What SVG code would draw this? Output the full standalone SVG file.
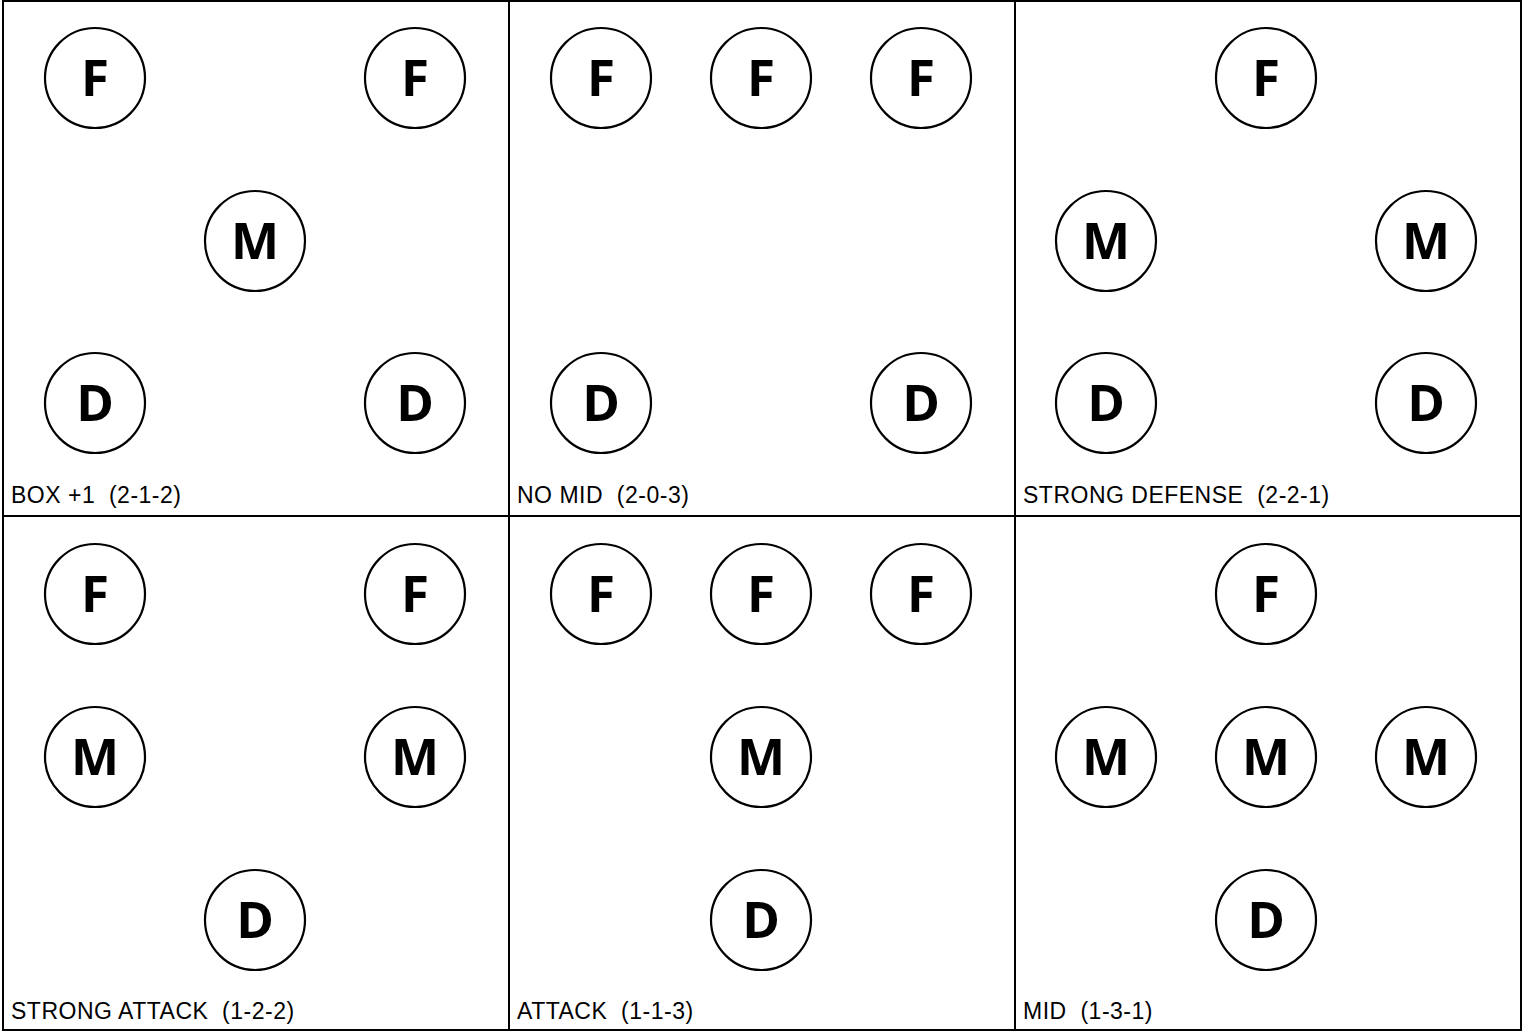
<svg xmlns="http://www.w3.org/2000/svg" width="1527" height="1031" viewBox="0 0 1527 1031">
<style>
.grid{fill:none;stroke:#000;stroke-width:2}
.p circle{fill:#fff;stroke:#000;stroke-width:2.2}
.p text{font-family:"Open Sans","Liberation Sans",sans-serif;font-weight:bold;font-size:51px;text-anchor:middle;fill:#000}
.lbl{font-family:"Liberation Sans",Arial,sans-serif;font-size:23px;letter-spacing:0.5px;fill:#000;white-space:pre}
</style>
<rect width="1527" height="1031" fill="#fff"/>
<g id="grid">
<rect class="grid" x="3" y="1" width="1518" height="1029"/>
<line class="grid" x1="509" y1="1" x2="509" y2="1030"/>
<line class="grid" x1="1015" y1="1" x2="1015" y2="1030"/>
<line class="grid" x1="3" y1="516" x2="1521" y2="516"/>
</g>
<g id="panel1">
<g id="p1f1" class="p" transform="translate(95,78)"><circle r="50"/><text y="18">F</text></g>
<g id="p1f2" class="p" transform="translate(415,78)"><circle r="50"/><text y="18">F</text></g>
<g id="p1m1" class="p" transform="translate(255,241)"><circle r="50"/><text y="18">M</text></g>
<g id="p1d1" class="p" transform="translate(95,403)"><circle r="50"/><text y="18">D</text></g>
<g id="p1d2" class="p" transform="translate(415,403)"><circle r="50"/><text y="18">D</text></g>
<text class="lbl" x="11" y="503" xml:space="preserve">BOX +1  (2-1-2)</text>
</g>
<g id="panel2">
<g id="p2f1" class="p" transform="translate(601,78)"><circle r="50"/><text y="18">F</text></g>
<g id="p2f2" class="p" transform="translate(761,78)"><circle r="50"/><text y="18">F</text></g>
<g id="p2f3" class="p" transform="translate(921,78)"><circle r="50"/><text y="18">F</text></g>
<g id="p2d1" class="p" transform="translate(601,403)"><circle r="50"/><text y="18">D</text></g>
<g id="p2d2" class="p" transform="translate(921,403)"><circle r="50"/><text y="18">D</text></g>
<text class="lbl" x="517" y="503" xml:space="preserve">NO MID  (2-0-3)</text>
</g>
<g id="panel3">
<g id="p3f1" class="p" transform="translate(1266,78)"><circle r="50"/><text y="18">F</text></g>
<g id="p3m1" class="p" transform="translate(1106,241)"><circle r="50"/><text y="18">M</text></g>
<g id="p3m2" class="p" transform="translate(1426,241)"><circle r="50"/><text y="18">M</text></g>
<g id="p3d1" class="p" transform="translate(1106,403)"><circle r="50"/><text y="18">D</text></g>
<g id="p3d2" class="p" transform="translate(1426,403)"><circle r="50"/><text y="18">D</text></g>
<text class="lbl" x="1023" y="503" xml:space="preserve">STRONG DEFENSE  (2-2-1)</text>
</g>
<g id="panel4">
<g id="p4f1" class="p" transform="translate(95,594)"><circle r="50"/><text y="18">F</text></g>
<g id="p4f2" class="p" transform="translate(415,594)"><circle r="50"/><text y="18">F</text></g>
<g id="p4m1" class="p" transform="translate(95,757)"><circle r="50"/><text y="18">M</text></g>
<g id="p4m2" class="p" transform="translate(415,757)"><circle r="50"/><text y="18">M</text></g>
<g id="p4d1" class="p" transform="translate(255,920)"><circle r="50"/><text y="18">D</text></g>
<text class="lbl" x="11" y="1019" xml:space="preserve">STRONG ATTACK  (1-2-2)</text>
</g>
<g id="panel5">
<g id="p5f1" class="p" transform="translate(601,594)"><circle r="50"/><text y="18">F</text></g>
<g id="p5f2" class="p" transform="translate(761,594)"><circle r="50"/><text y="18">F</text></g>
<g id="p5f3" class="p" transform="translate(921,594)"><circle r="50"/><text y="18">F</text></g>
<g id="p5m1" class="p" transform="translate(761,757)"><circle r="50"/><text y="18">M</text></g>
<g id="p5d1" class="p" transform="translate(761,920)"><circle r="50"/><text y="18">D</text></g>
<text class="lbl" x="517" y="1019" xml:space="preserve">ATTACK  (1-1-3)</text>
</g>
<g id="panel6">
<g id="p6f1" class="p" transform="translate(1266,594)"><circle r="50"/><text y="18">F</text></g>
<g id="p6m1" class="p" transform="translate(1106,757)"><circle r="50"/><text y="18">M</text></g>
<g id="p6m2" class="p" transform="translate(1266,757)"><circle r="50"/><text y="18">M</text></g>
<g id="p6m3" class="p" transform="translate(1426,757)"><circle r="50"/><text y="18">M</text></g>
<g id="p6d1" class="p" transform="translate(1266,920)"><circle r="50"/><text y="18">D</text></g>
<text class="lbl" x="1023" y="1019" xml:space="preserve">MID  (1-3-1)</text>
</g>
</svg>
